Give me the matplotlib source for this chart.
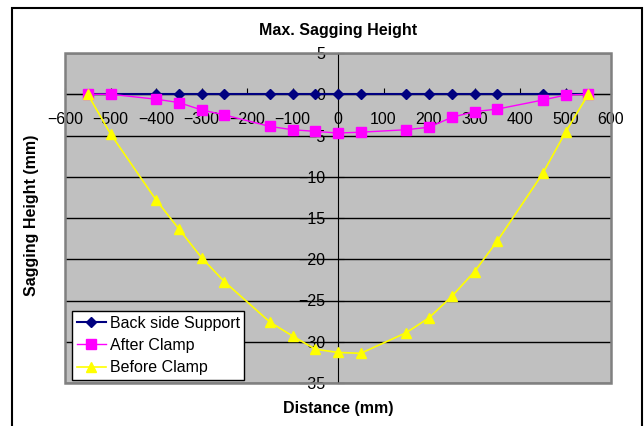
import matplotlib
matplotlib.use("Agg")
import matplotlib.pyplot as plt
import matplotlib.transforms as mtransforms
from matplotlib.patches import Rectangle

plt.rcParams['font.family'] = ['Liberation Sans', 'DejaVu Sans']

distance = [-550, -500, -400, -350, -300, -250, -150, -100, -50, 0, 50,
            150, 200, 250, 300, 350, 450, 500, 550]
back_side_support = [0, 0, 0, 0, 0, 0, 0, 0, 0, 0, 0,
                     0, 0, 0, 0, 0, 0, 0, 0]
after_clamp = [0, 0, -0.6, -1.0, -1.9, -2.5, -3.9, -4.3, -4.5, -4.7, -4.6,
               -4.3, -4.0, -2.8, -2.1, -1.8, -0.7, -0.1, 0]
before_clamp = [0, -4.8, -12.8, -16.3, -19.8, -22.7, -27.6, -29.3, -30.9, -31.3, -31.4,
                -28.9, -27.1, -24.5, -21.5, -17.8, -9.6, -4.6, 0]
x_ticks = list(range(-600, 601, 100))
y_ticks = list(range(-35, 6, 5))

W, H = 644, 426
fig = plt.figure(figsize=(W / 100, H / 100), dpi=100)
fig.patch.set_facecolor('white')
# outer chart border
fig.add_artist(Rectangle((12 / W, -0.01), (642 - 12) / W, (426 - 8) / H + 0.01,
                         transform=fig.transFigure, fill=False, edgecolor='black',
                         linewidth=1.5))

ax = fig.add_axes([65 / W, (H - 383) / H, (611 - 65) / W, (383 - 53) / H])
ax.set_facecolor('#C0C0C0')
ax.set_xlim(-600, 600)
ax.set_ylim(-35, 5)

for y in y_ticks:
    ax.axhline(y, color='black', linewidth=1.0, zorder=1)

for s in ['top', 'right']:
    ax.spines[s].set_visible(False)
ax.add_patch(Rectangle((0, 0), 1, 1, transform=ax.transAxes, fill=False,
                       edgecolor='#808080', linewidth=1.8, zorder=5, clip_on=False))

ax.set_xticks(x_ticks)
ax.set_yticks(y_ticks)
ax.set_xticklabels([str(v).replace('-', '\u2212') for v in x_ticks])
ax.set_yticklabels([str(v).replace('-', '\u2212') for v in y_ticks])
ax.tick_params(axis='both', labelsize=11.5, colors='black')
ax.tick_params(axis='x', direction='in', length=4, pad=13)
ax.tick_params(axis='y', direction='in', length=4, pad=9)

# nudge y tick labels slightly below their gridlines
offset = mtransforms.ScaledTranslation(0, -3.5 / 100, fig.dpi_scale_trans)
for lab in ax.get_yticklabels():
    lab.set_transform(lab.get_transform() + offset)

# axes cross at zero
ax.spines['left'].set_position(('data', 0))
ax.spines['bottom'].set_position(('data', 0))
ax.spines['left'].set_color('black')
ax.spines['bottom'].set_color('black')

ax.plot(distance, back_side_support, color='#000080', marker='D', markersize=5.5,
        linewidth=1.5, label='Back side Support', zorder=6)
ax.plot(distance, after_clamp, color='#FF00FF', marker='s', markersize=7,
        linewidth=1.0, label='After Clamp', zorder=7)
ax.plot(distance, before_clamp, color='#FFFF00', marker='^', markersize=7.5,
        linewidth=1.2, label='Before Clamp', zorder=8)

leg = ax.legend(loc='lower left', bbox_to_anchor=(72 / W, (H - 380) / H),
                bbox_transform=fig.transFigure, fontsize=11.5, frameon=True,
                fancybox=False, framealpha=1, edgecolor='black',
                borderpad=0.3, labelspacing=0.45, handlelength=1.8,
                handletextpad=0.25, borderaxespad=0)
leg.get_frame().set_linewidth(1.0)
leg.set_zorder(10)

fig.text(338 / W, 1 - 30 / H, 'Max. Sagging Height', ha='center', va='center',
         fontsize=11.5, fontweight='bold')
fig.text(338 / W, 1 - 409 / H, 'Distance (mm)', ha='center', va='center',
         fontsize=11.5, fontweight='bold')
fig.text(32 / W, 1 - 215 / H, 'Sagging Height (mm)', ha='center', va='center',
         rotation=90, fontsize=11.5, fontweight='bold')

fig.savefig('out.png', dpi=100)
